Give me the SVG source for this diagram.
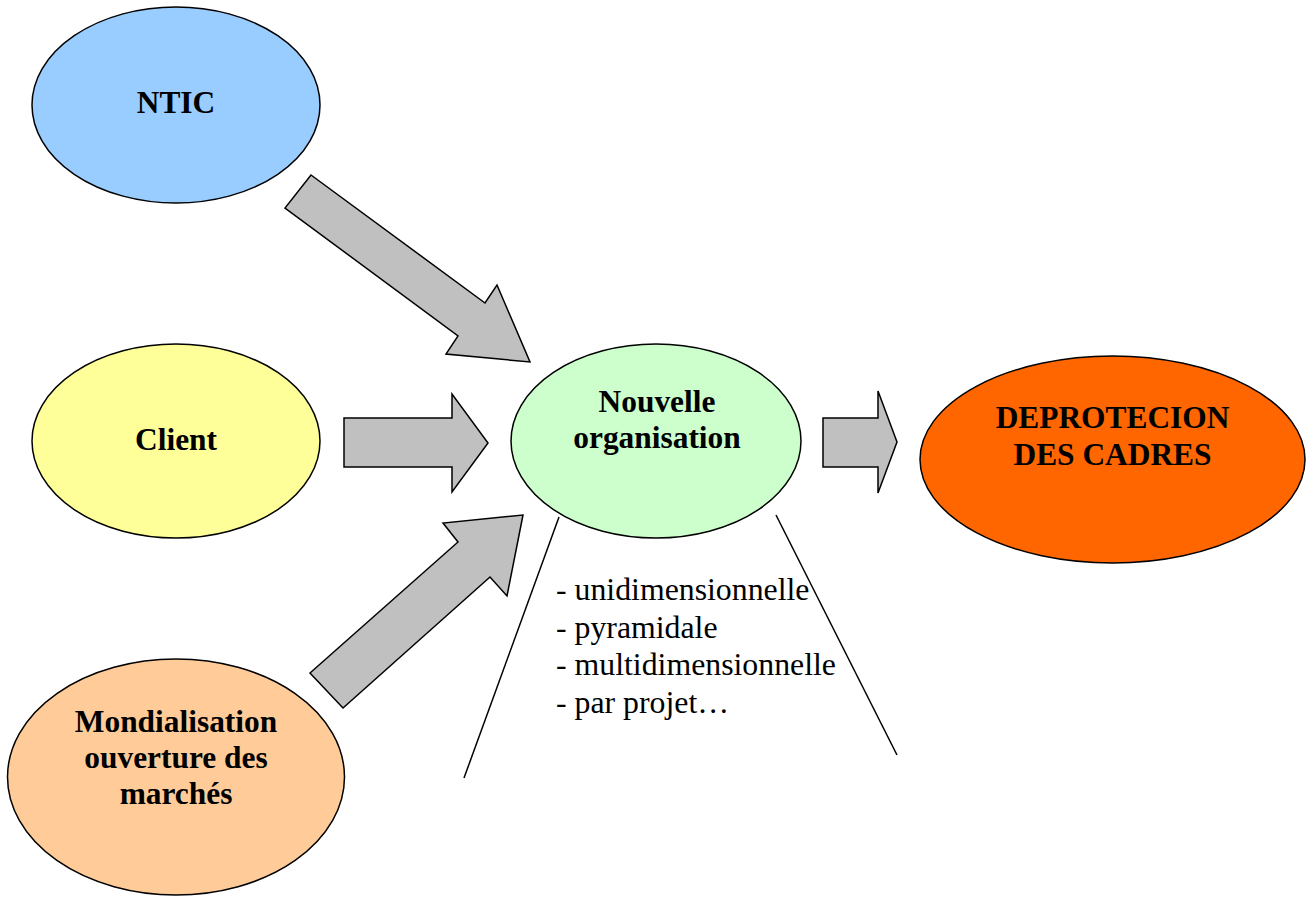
<svg xmlns="http://www.w3.org/2000/svg" width="1309" height="897" viewBox="0 0 1309 897">
<style>
.node{stroke:#000;stroke-width:1.5}
.arrow{fill:#C0C0C0;stroke:#000;stroke-width:1.5;stroke-linejoin:miter}
.t{font-family:"Liberation Serif","Times New Roman",serif;font-weight:bold;font-size:31.4px;text-anchor:middle;fill:#000}
.list{font-family:"Liberation Serif","Times New Roman",serif;font-size:31.8px;fill:#000}
.ln{stroke:#000;stroke-width:1.5;fill:none}
</style>
<rect width="1309" height="897" fill="#fff"/>
<g id="ntic"><ellipse class="node" cx="176" cy="105" rx="144" ry="98" fill="#99CCFF"/><text class="t" x="176" y="113">NTIC</text></g>
<g id="client"><ellipse class="node" cx="176" cy="441" rx="144" ry="97" fill="#FFFF99"/><text class="t" x="176" y="450">Client</text></g>
<g id="mondialisation"><ellipse class="node" cx="176" cy="777" rx="168.5" ry="118" fill="#FFCC99"/><text class="t" x="176" y="732">Mondialisation</text><text class="t" x="176" y="768">ouverture des</text><text class="t" x="176" y="804">marchés</text></g>
<g id="nouvelle"><ellipse class="node" cx="656" cy="441" rx="145" ry="97" fill="#CCFFCC"/><text class="t" x="657" y="412">Nouvelle</text><text class="t" x="657" y="448">organisation</text></g>
<g id="deprotecion"><ellipse class="node" cx="1112.5" cy="459.5" rx="192.5" ry="103.5" fill="#FF6600"/><text class="t" x="1112.5" y="428">DEPROTECION</text><text class="t" x="1112.5" y="465">DES CADRES</text></g>
<g id="connectors">
<polygon class="arrow" points="311,175 485,303 497,285 530,362 446,354 458,336 285,208"/>
<polygon class="arrow" points="344,418 452,418 452,394 488,443 452,492 452,467 344,467"/>
<polygon class="arrow" points="310,673 458,542 443,523 523,515 507,596 490,577 343,708"/>
<polygon class="arrow" points="823,418 878,418 878,391 897,442 878,493 878,467 823,467"/>
<line class="ln" x1="559" y1="517" x2="464" y2="778"/>
<line class="ln" x1="776" y1="515" x2="897" y2="755"/>
</g>
<g id="list">
<text class="list" x="556" y="600">- unidimensionnelle</text>
<text class="list" x="556" y="638">- pyramidale</text>
<text class="list" x="556" y="675">- multidimensionnelle</text>
<text class="list" x="556" y="713">- par projet…</text>
</g>
</svg>
